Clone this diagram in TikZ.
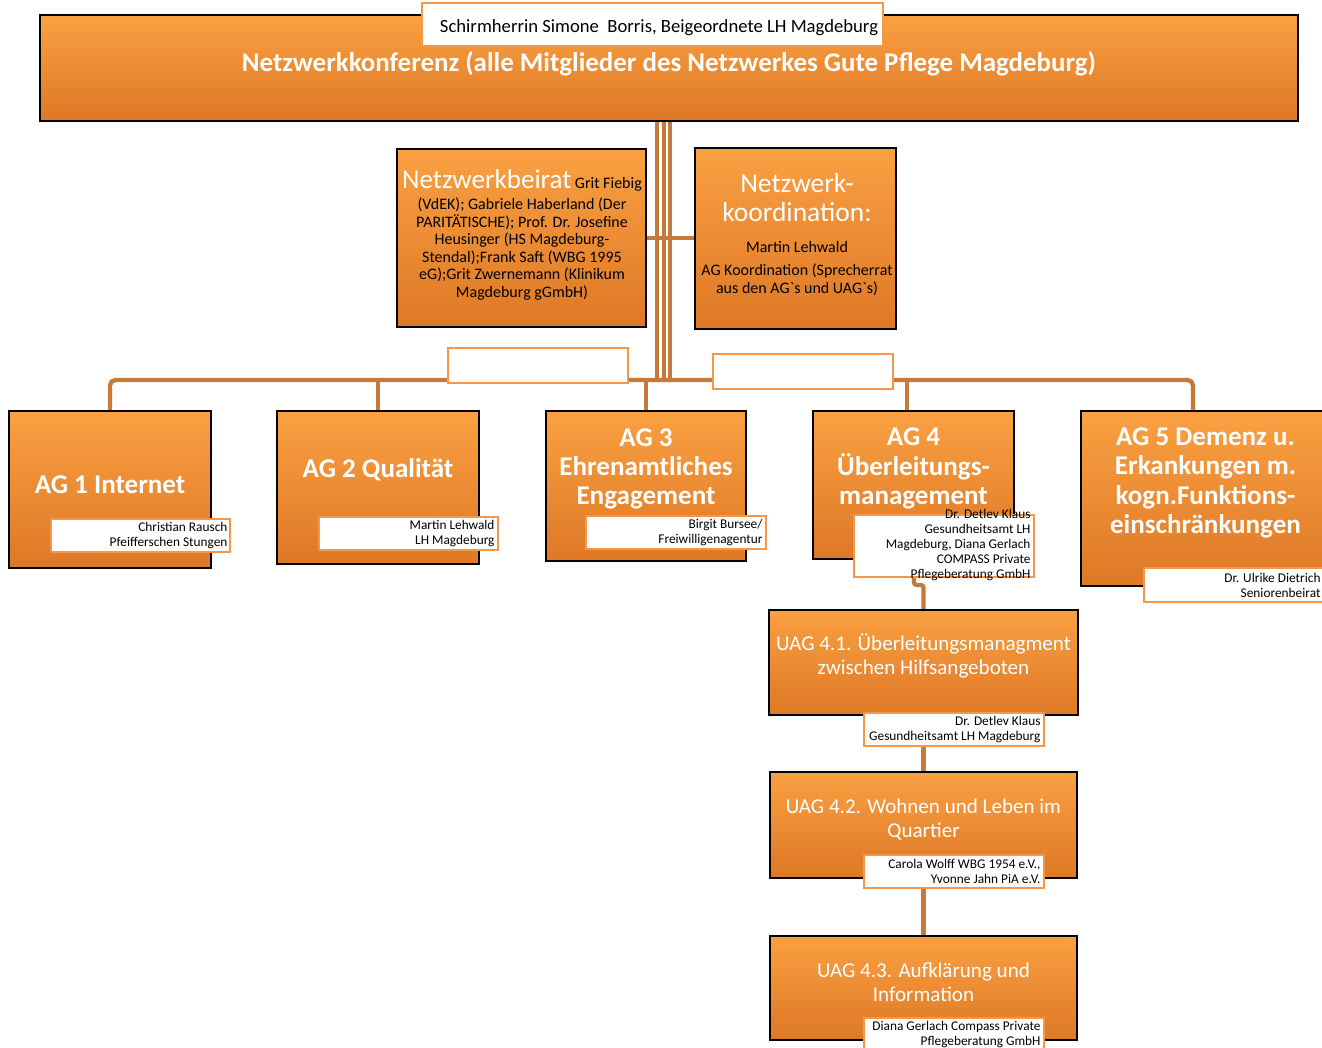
\documentclass[tikz,border=0pt]{standalone}
\usepackage{fontspec}
\setmainfont{Carlito}
\usetikzlibrary{backgrounds}

\definecolor{orgtop}{RGB}{250,160,66}
\definecolor{orgbot}{RGB}{222,120,38}
\definecolor{linkc}{RGB}{197,122,58}
\definecolor{lblc}{RGB}{247,150,70}

\tikzset{every picture/.style={line width=0.75pt}}
\tikzset{
  boxsize/.style 2 args={minimum width=#1*0.75pt, minimum height=#2*0.75pt},
  bevel/.style={path picture={
    \fill[white, fill opacity=0.28] (path picture bounding box.north west) -- (path picture bounding box.north east)
      -- ([xshift=-5pt,yshift=5pt]path picture bounding box.north east) -- ([xshift=5pt,yshift=5pt]path picture bounding box.north west) -- cycle;
    \fill[black, fill opacity=0.12] (path picture bounding box.south west) -- (path picture bounding box.south east)
      -- ([xshift=-5pt,yshift=-5pt]path picture bounding box.south east) -- ([xshift=5pt,yshift=-5pt]path picture bounding box.south west) -- cycle;
  }},
  orgbox/.style={draw=black, line width=1.2pt, top color=orgtop, bottom color=orgbot, inner sep=0pt, bevel},
  lblbox/.style={draw=lblc, line width=1.5pt, fill=white, inner sep=0pt},
  link/.style={draw=linkc, line width=3.2pt},
  boxtext/.style={text=white, align=center, inner sep=0pt},
  agtext/.style={boxtext, font=\bfseries\fontsize{20.3}{22}\selectfont},
  uagtext/.style={boxtext, font=\fontsize{15.8}{18}\selectfont},
  lbltext/.style={text=black, align=right, anchor=east, inner sep=0pt, font=\fontsize{10}{11.25}\selectfont},
}

\begin{document}
\begin{tikzpicture}[x=0.75pt,y=0.75pt,yscale=-1,xscale=1]
\useasboundingbox (0,0) rectangle (1322,1048);
\clip (0,0) rectangle (1322,1048);

%Shape: Rectangle [Netzwerkkonferenz]
\node[orgbox, boxsize={1258}{106}] (conf) at (669,68) {};
\node[lblbox, boxsize={461}{43}] (schirm) at (652.5,24.5) {};
% Text Node
\node[boxtext, text=black, font=\fontsize{14}{16}\selectfont] (schirmt) at (659,27.5) {Schirmherrin Simone\ \ Borris, Beigeordnete LH Magdeburg};
% Text Node
\node[boxtext, font=\bfseries\fontsize{20.2}{22}\selectfont] (conft) at (669,64) {Netzwerkkonferenz (alle Mitglieder des Netzwerkes Gute Pflege Magdeburg)};

%Shape: Rectangle [Netzwerkbeirat]
\node[orgbox, boxsize={249}{178}] (beirat) at (521.5,238) {};
% Text Node
\node[boxtext, anchor=north, text=black, font=\fontsize{12}{13.1}\selectfont] (beiratt) at (522,169) {{\color{white}\fontsize{20.3}{22}\selectfont Netzwerkbeirat} Grit Fiebig\\[3pt]
  (VdEK); Gabriele Haberland (Der\\ PARITÄTISCHE); Prof. Dr. Josefine\\ Heusinger (HS Magdeburg-\\ Stendal);Frank Saft (WBG 1995\\ eG);Grit Zwernemann (Klinikum\\ Magdeburg gGmbH)};

%Shape: Rectangle [Netzwerkkoordination]
\node[orgbox, boxsize={201}{181}] (koord) at (795.5,238.5) {};
% Text Node
\node[boxtext, font=\fontsize{20.6}{22}\selectfont] (koordt) at (797,197.5) {Netzwerk-\\koordination:};
% Text Node
\node[boxtext, text=black, font=\fontsize{12}{13.5}\selectfont] (koordn) at (797,247) {Martin Lehwald};
% Text Node
\node[boxtext, text=black, font=\fontsize{12}{13.5}\selectfont] (koordag) at (797,280) {AG Koordination (Sprecherrat\\aus den AG\textasciigrave s und UAG\textasciigrave s)};

%Shape: Rectangle [leere Felder]
\node[lblbox, boxsize={180}{35}] (leer1) at (538,365.5) {};
\node[lblbox, boxsize={180}{35}] (leer2) at (803,371.5) {};

%Shape: Rectangle [AG 1]
\node[orgbox, boxsize={202}{157}] (ag1) at (110,489.5) {};
\node[agtext] (ag1t) at (110,485) {AG 1 Internet};
\node[lblbox, boxsize={179}{33}] (ag1l) at (140.5,535.5) {};
\node[lbltext] (ag1n) at (228,535.5) {Christian Rausch\\Pfeifferschen Stungen};

%Shape: Rectangle [AG 2]
\node[orgbox, boxsize={202}{153}] (ag2) at (378,487.5) {};
\node[agtext] (ag2t) at (378,470) {AG 2 Qualität};
\node[lblbox, boxsize={179}{33}] (ag2l) at (408.5,533.5) {};
\node[lbltext] (ag2n) at (495,533.5) {Martin Lehwald\\LH Magdeburg};

%Shape: Rectangle [AG 3]
\node[orgbox, boxsize={200}{150}] (ag3) at (646,486) {};
\node[agtext] (ag3t) at (646,469) {AG 3\\Ehrenamtliches\\Engagement};
\node[lblbox, boxsize={180}{33}] (ag3l) at (676,532.5) {};
\node[lbltext] (ag3n) at (763,532.5) {Birgit Bursee/\\Freiwilligenagentur};

%Shape: Rectangle [AG 4]
\node[orgbox, boxsize={201}{148}] (ag4) at (913.5,485) {};
\node[agtext] (ag4t) at (913.5,468.5) {AG 4\\Überleitungs-\\management};
\node[lblbox, boxsize={180}{62}] (ag4l) at (944,546) {};
\node[lbltext] (ag4n) at (1031,545) {Dr. Detlev Klaus\\Gesundheitsamt LH\\Magdeburg, Diana Gerlach\\COMPASS Private\\Pflegeberatung GmbH};

%Shape: Rectangle [AG 5]
\node[orgbox, boxsize={249}{175}] (ag5) at (1205.5,498.5) {};
\node[agtext] (ag5t) at (1205.5,483) {AG 5 Demenz u.\\Erkankungen m.\\kogn.Funktions-\\einschränkungen};
\node[lblbox, boxsize={180}{34}] (ag5l) at (1234,585) {};
\node[lbltext] (ag5n) at (1321,585) {Dr. Ulrike Dietrich\\Seniorenbeirat};

%Shape: Rectangle [UAG 4.1]
\node[orgbox, boxsize={309}{105}] (uag1) at (923.5,662.5) {};
\node[uagtext] (uag1t) at (923.5,656) {UAG 4.1. Überleitungsmanagment\\zwischen Hilfsangeboten};
\node[lblbox, boxsize={180}{33}] (uag1l) at (954,729.5) {};
\node[lbltext] (uag1n) at (1041,729.5) {Dr. Detlev Klaus\\Gesundheitsamt LH Magdeburg};

%Shape: Rectangle [UAG 4.2]
\node[orgbox, boxsize={307}{106}] (uag2) at (923.5,825) {};
\node[uagtext] (uag2t) at (923.5,819.5) {UAG 4.2. Wohnen und Leben im\\Quartier};
\node[lblbox, boxsize={180}{33}] (uag2l) at (954,871.5) {};
\node[lbltext] (uag2n) at (1041,871.5) {Carola Wolff WBG 1954 e.V.,\\Yvonne Jahn PiA e.V.};

%Shape: Rectangle [UAG 4.3]
\node[orgbox, boxsize={307}{104}] (uag3) at (923.5,988) {};
\node[uagtext] (uag3t) at (923.5,982.5) {UAG 4.3. Aufklärung und\\Information};
\node[lblbox, boxsize={180}{33}] (uag3l) at (954,1034.5) {};
\node[lbltext] (uag3n) at (1041,1034.5) {Diana Gerlach Compass Private\\Pflegeberatung GmbH};

%Straight Lines
\begin{scope}[on background layer]
\coordinate (hub) at (663.5,380);
\foreach \dx in {-6.5,0,6.5}
  \draw[link, line width=3pt] ([xshift=\dx*0.75pt]hub |- conf.south) -- ([xshift=\dx*0.75pt]hub);
\draw[link] (beirat.east) -- (beirat.east -| koord.west);
\coordinate (barL) at (110,380);
\coordinate (barR) at (1193,380);
\draw[link, rounded corners=4pt] (ag1.north) -- (barL) -- (barR) -- (barR |- ag5.north);
\draw[link] (ag2.north |- barL) -- (ag2.north);
\draw[link] (ag3.north |- barL) -- (ag3.north);
\coordinate (d4) at (907,380);
\draw[link] (d4) -- (d4 |- ag4.north);
\coordinate (k4) at (914,585);
\draw[link, rounded corners=2pt] (ag4l.south -| k4) -- (k4) -| (uag1.north);
\draw[link] (uag1l.south -| uag2.north) -- (uag2.north);
\draw[link] (uag2l.south -| uag3.north) -- (uag3.north);
\end{scope}

\end{tikzpicture}
\end{document}
